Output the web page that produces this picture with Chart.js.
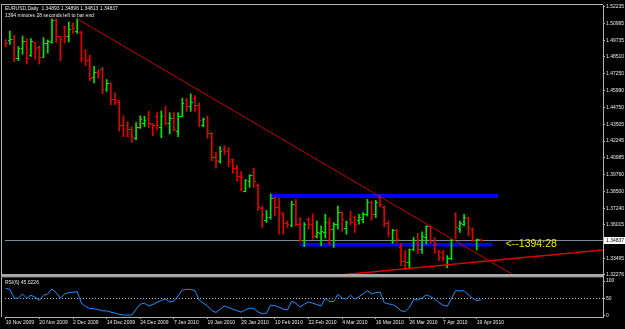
<!DOCTYPE html>
<html><head><meta charset="utf-8">
<script src="https://cdn.jsdelivr.net/npm/chart.js@4.4.1/dist/chart.umd.min.js"></script>
<style>html,body{margin:0;padding:0;background:#000;overflow:hidden}canvas{display:block}</style>
</head><body>
<canvas id="c" width="625" height="329"></canvas>
<script>
const symbolName = 'EURUSD,Daily';
const timerText = '1394 minutes 28 seconds left to bar end';
const countdownText = '<--1394:28';
const dateLabels = ['10 Nov 2009','20 Nov 2009','2 Dec 2009','14 Dec 2009','24 Dec 2009','7 Jan 2010','19 Jan 2010','29 Jan 2010','10 Feb 2010','22 Feb 2010','4 Mar 2010','16 Mar 2010','26 Mar 2010','7 Apr 2010','19 Apr 2010'];
const dateTickIndex = [0,8,16,24,32,40,48,56,64,72,80,88,96,104,112];
const priceTicks = [1.52235,1.50995,1.49735,1.48510,1.47250,1.45990,1.44750,1.43505,1.42245,1.40985,1.39760,1.38500,1.37240,1.36015,1.33495,1.32276];
const rsiTicks = [0,50,100];

const opens = [1.4958,1.4973,1.4982,1.4840,1.4914,1.4963,1.4860,1.4958,1.4923,1.4847,
1.4950,1.4958,1.5125,1.5002,1.5069,1.5002,1.5085,1.5044,1.5032,1.4896,
1.4823,1.4700,1.4736,1.4761,1.4609,1.4650,1.4535,1.4515,1.4343,1.4338,
1.4313,1.4244,1.4323,1.4353,1.4392,1.4348,1.4405,1.4323,1.4404,1.4355,
1.4392,1.4299,1.4409,1.4528,1.4485,1.4539,1.4490,1.4343,1.4392,1.4281,
1.4102,1.4072,1.4158,1.4146,1.4085,1.4023,1.3962,1.3851,1.3925,1.3969,
1.3893,1.3723,1.3629,1.3654,1.3797,1.3733,1.3679,1.3609,1.3593,1.3753,
1.3600,1.3487,1.3642,1.3600,1.3511,1.3533,1.3543,1.3617,1.3568,1.3605,
1.3691,1.3575,1.3642,1.3654,1.3629,1.3637,1.3679,1.3765,1.3674,1.3807,
1.3733,1.3609,1.3482,1.3556,1.3432,1.3329,1.3319,1.3413,1.3469,1.3413,
1.3506,1.3585,1.3477,1.3401,1.3393,1.3297,1.3346,1.3679,1.3575,1.3605,
1.3649,1.3568,1.3482,1.34893];
const highs = [1.4980,1.5044,1.5012,1.4928,1.5007,1.4987,1.4987,1.4958,1.4933,1.4995,
1.4978,1.5135,1.5135,1.5002,1.5081,1.5111,1.5105,1.5135,1.5044,1.4904,
1.4864,1.4781,1.4756,1.4773,1.4683,1.4657,1.4584,1.4528,1.4412,1.4367,
1.4331,1.4362,1.4412,1.4410,1.4446,1.4355,1.4436,1.4449,1.4483,1.4436,
1.4441,1.4436,1.4544,1.4544,1.4576,1.4564,1.4510,1.4397,1.4412,1.4288,
1.4141,1.4183,1.4190,1.4176,1.4092,1.4043,1.3998,1.3937,1.3974,1.4023,
1.3905,1.3740,1.3708,1.3831,1.3807,1.3797,1.3691,1.3629,1.3777,1.3790,
1.3654,1.3617,1.3654,1.3683,1.3629,1.3593,1.3679,1.3654,1.3617,1.3740,
1.3698,1.3629,1.3703,1.3666,1.3679,1.3691,1.3790,1.3777,1.3782,1.3821,
1.3740,1.3629,1.3568,1.3568,1.3462,1.3408,1.3420,1.3506,1.3536,1.3548,
1.3593,1.3593,1.3506,1.3413,1.3408,1.3371,1.3494,1.3691,1.3629,1.3679,
1.3659,1.3580,1.3494,1.34896];
const lows = [1.4928,1.4945,1.4815,1.4823,1.4871,1.4798,1.4855,1.4835,1.4798,1.4847,
1.4879,1.4953,1.4958,1.4823,1.4953,1.4963,1.5026,1.5026,1.4815,1.4786,
1.4675,1.4657,1.4692,1.4576,1.4594,1.4495,1.4495,1.4299,1.4257,1.4257,
1.4215,1.4232,1.4318,1.4331,1.4323,1.4264,1.4306,1.4249,1.4343,1.4277,
1.4299,1.4257,1.4404,1.4446,1.4446,1.4446,1.4331,1.4331,1.4244,1.4077,
1.4023,1.4060,1.4122,1.4035,1.3986,1.3925,1.3856,1.3846,1.3880,1.3880,
1.3708,1.3580,1.3617,1.3642,1.3666,1.3531,1.3531,1.3580,1.3585,1.3593,
1.3477,1.3438,1.3568,1.3494,1.3502,1.3445,1.3502,1.3452,1.3432,1.3568,
1.3551,1.3531,1.3600,1.3543,1.3605,1.3617,1.3666,1.3634,1.3654,1.3733,
1.3585,1.3511,1.3462,1.3469,1.3297,1.3266,1.3273,1.3408,1.3388,1.3388,
1.3457,1.3462,1.3388,1.3334,1.3329,1.3280,1.3339,1.3494,1.3544,1.3593,
1.3519,1.3477,1.3413,1.34813];
const closes = [1.4950,1.4980,1.4840,1.4914,1.4963,1.4840,1.4963,1.4914,1.4845,1.4952,
1.4963,1.5124,1.5002,1.4982,1.5002,1.5056,1.5061,1.5130,1.4840,1.4823,
1.4687,1.4736,1.4724,1.4609,1.4650,1.4535,1.4528,1.4343,1.4308,1.4308,
1.4249,1.4323,1.4382,1.4375,1.4355,1.4343,1.4340,1.4404,1.4355,1.4392,
1.4308,1.4404,1.4503,1.4485,1.4508,1.4490,1.4380,1.4387,1.4281,1.4102,
1.4077,1.4146,1.4146,1.4072,1.4023,1.3962,1.3954,1.3930,1.3969,1.3925,
1.3733,1.3679,1.3654,1.3797,1.3733,1.3691,1.3609,1.3605,1.3753,1.3600,
1.3487,1.3600,1.3600,1.3511,1.3543,1.3548,1.3617,1.3568,1.3605,1.3691,
1.3642,1.3617,1.3615,1.3600,1.3654,1.3674,1.3765,1.3674,1.3765,1.3753,
1.3609,1.3536,1.3556,1.3494,1.3329,1.3319,1.3413,1.3482,1.3415,1.3511,
1.3585,1.3477,1.3457,1.3356,1.3349,1.3349,1.3487,1.3580,1.3607,1.3654,
1.3578,1.3482,1.3489,1.34837];
const rsiValues = [78.7,75.8,49.8,49.8,62.3,49.8,58.5,52.7,43.0,58.5,
62.3,76.8,66.2,49.8,62.3,66.2,67.1,69.0,35.3,25.6,
19.8,18.8,16.9,13.0,13.0,9.2,6.3,2.4,1.0,0.5,
1.0,17.9,32.4,35.3,27.5,31.4,38.2,43.0,47.8,39.1,
42.0,56.5,73.9,75.8,75.8,72.0,44.9,35.3,27.5,14.0,
8.2,17.9,27.5,22.7,17.9,14.0,9.2,16.0,20.8,19.8,
10.1,4.3,6.3,29.5,28.5,23.7,17.9,16.0,41.0,35.3,
23.7,32.4,39.1,35.3,31.4,27.5,49.8,40.1,40.1,61.4,
49.8,47.8,58.5,46.9,54.6,62.3,72.0,62.3,66.2,68.1,
37.2,33.3,31.4,24.6,13.0,11.1,23.7,45.9,44.9,50.7,
59.4,54.6,47.8,37.2,29.5,26.6,48.8,72.0,71.0,72.0,
59.4,49.8,43.0,45.0226];

const downTrendX = [17, 121.1];
const downTrendY = [1.5135, 1.3220];
const upTrendX = [79.5, 142];
const upTrendY = [1.3227, 1.3412];
const upperBandX = [63, 117];
const upperBandY = [1.3816, 1.3816];
const lowerBandX = [70, 115.7];
const lowerBandY = [1.3452, 1.3452];

const X_MIN = -0.17, X_MAX = 142.03;
const PRICE_MIN = 1.3220, PRICE_MAX = 1.5238;
const RSI_MIN = -4.9, RSI_MAX = 115;

const UP = '#00e600', DOWN = '#e60000';
const FONT = 'Liberation Sans';
const last = closes.length - 1;
const idx = closes.map((_, i) => i);
const isUp = i => closes[i] >= opens[i];
const fmt = v => v.toFixed(5);

function tickImage(color, side) {
  const c = document.createElement('canvas');
  c.width = 4; c.height = 1;
  const g = c.getContext('2d');
  g.fillStyle = color;
  g.fillRect(side === 'open' ? 0 : 2, 0, 2, 1);
  return c;
}
const tickImgs = {
  openUp: tickImage(UP, 'open'), openDown: tickImage(DOWN, 'open'),
  closeUp: tickImage(UP, 'close'), closeDown: tickImage(DOWN, 'close')
};
const pts = (xs, ys) => xs.map((x, k) => ({x, y: ys[k]}));

const decor = {
  id: 'mt4decor',
  beforeDraw(chart) {
    const c = chart.ctx;
    c.save(); c.fillStyle = '#000'; c.fillRect(0, 0, chart.width, chart.height); c.restore();
  },
  beforeDatasetsDraw(chart) {
    const {ctx, chartArea: a, scales} = chart;
    const py = Math.round(scales.y.getPixelForValue(closes[last])) + 0.5;
    ctx.save();
    ctx.lineWidth = 1;
    ctx.strokeStyle = '#7a8898';
    ctx.beginPath(); ctx.moveTo(a.left, py); ctx.lineTo(a.right, py); ctx.stroke();
    const ry = Math.round(scales.rsi.getPixelForValue(50)) + 0.5;
    ctx.setLineDash([1, 2]);
    ctx.strokeStyle = '#c0c0c0';
    ctx.beginPath(); ctx.moveTo(a.left, ry); ctx.lineTo(a.right, ry); ctx.stroke();
    ctx.restore();
  },
  afterDraw(chart) {
    const {ctx, chartArea: a, scales} = chart;
    const y = scales.y, r = scales.rsi, x = scales.x;
    ctx.save();
    // frame
    ctx.strokeStyle = '#b4b4b4'; ctx.lineWidth = 1;
    ctx.beginPath();
    ctx.moveTo(1.5, a.top - 0.5); ctx.lineTo(1.5, a.bottom);
    ctx.moveTo(1, a.top - 0.5); ctx.lineTo(a.right, a.top - 0.5);
    ctx.stroke();
    // pane separator
    ctx.fillStyle = '#9a9a9a';
    ctx.fillRect(1, y.bottom - 1.5, a.right - 1, 3);
    ctx.fillStyle = '#d0d0d0';
    ctx.fillRect(1, y.bottom - 1.5, a.right - 1, 1);
    // current price box
    const py = Math.round(y.getPixelForValue(closes[last]));
    ctx.fillStyle = '#ffffff';
    ctx.fillRect(a.right + 1, py - 3, chart.width - a.right - 1, 7);
    ctx.fillStyle = '#000000';
    ctx.font = '5px "' + FONT + '"';
    ctx.textBaseline = 'middle';
    ctx.textAlign = 'left';
    ctx.fillText(fmt(closes[last]), a.right + 3, py + 0.5);
    // header texts
    ctx.fillStyle = '#e8e8e8';
    ctx.fillText(symbolName + '  ' + fmt(opens[last]) + ' ' + fmt(highs[last]) + ' ' + fmt(lows[last]) + ' ' + fmt(closes[last]), 5, a.top + 4);
    ctx.fillText(timerText, 5, a.top + 10.5);
    ctx.fillText('RSI(6) ' + rsiValues[last].toFixed(4), 5, r.top + 7);
    // countdown
    ctx.fillStyle = '#f2e600';
    ctx.font = '10.5px "' + FONT + '"';
    ctx.fillText(countdownText, x.getPixelForValue(last + 5.9), py + 4);
    ctx.restore();
  }
};

new Chart(document.getElementById('c').getContext('2d'), {
  type: 'bar',
  data: {
    datasets: [
      { type: 'line', data: pts(downTrendX, downTrendY), borderColor: '#c80000', borderWidth: 1, pointRadius: 0, order: 0, xAxisID: 'x', yAxisID: 'y' },
      { type: 'line', data: pts(upTrendX, upTrendY), borderColor: '#dc0000', borderWidth: 1.5, pointRadius: 0, order: 0, xAxisID: 'x', yAxisID: 'y' },
      { type: 'scatter', data: idx.map(i => ({x: i, y: opens[i]})), pointStyle: c => isUp(c.dataIndex) ? tickImgs.openUp : tickImgs.openDown, pointRadius: 1, order: 1, xAxisID: 'x', yAxisID: 'y' },
      { type: 'scatter', data: idx.map(i => ({x: i, y: closes[i]})), pointStyle: c => isUp(c.dataIndex) ? tickImgs.closeUp : tickImgs.closeDown, pointRadius: 1, order: 1, xAxisID: 'x', yAxisID: 'y' },
      { type: 'bar', data: idx.map(i => ({x: i, y: [lows[i], highs[i]]})), backgroundColor: idx.map(i => isUp(i) ? UP : DOWN), barThickness: 1, borderWidth: 0, grouped: false, order: 2, xAxisID: 'x', yAxisID: 'y' },
      { type: 'line', data: pts(upperBandX, upperBandY), borderColor: '#0000ff', borderWidth: 4, pointRadius: 0, order: 3, xAxisID: 'x', yAxisID: 'y' },
      { type: 'line', data: pts(lowerBandX, lowerBandY), borderColor: '#0000ff', borderWidth: 3.5, pointRadius: 0, order: 3, xAxisID: 'x', yAxisID: 'y' },
      { type: 'line', data: idx.map(i => ({x: i, y: rsiValues[i]})), borderColor: '#1e90ff', borderWidth: 1, pointRadius: 0, tension: 0, order: 0, xAxisID: 'x', yAxisID: 'rsi' }
    ]
  },
  options: {
    responsive: false,
    animation: false,
    devicePixelRatio: 1,
    events: [],
    layout: { padding: { left: 2, top: 2, right: 0, bottom: 0 } },
    plugins: { legend: { display: false }, tooltip: { enabled: false } },
    scales: {
      x: {
        type: 'linear', position: 'bottom', min: X_MIN, max: X_MAX, offset: false,
        grid: { display: true, drawOnChartArea: false, drawTicks: true, tickLength: 2, color: '#a0a0a0', offset: false },
        border: { display: true, color: '#b4b4b4' },
        ticks: { autoSkip: false, maxRotation: 0, minRotation: 0, align: 'start', padding: 1, color: '#e8e8e8',
          font: { family: FONT, size: 5 },
          callback: v => { const k = dateTickIndex.indexOf(v); return k >= 0 ? dateLabels[k] : ''; } },
        afterBuildTicks: s => { s.ticks = dateTickIndex.map(v => ({value: v})); },
        afterFit: s => { s.height = 12; s.paddingLeft = 0; s.paddingRight = 0; }
      },
      y: {
        type: 'linear', position: 'right', stack: 'panes', stackWeight: 273.5,
        min: PRICE_MIN, max: PRICE_MAX, beginAtZero: false,
        grid: { display: true, drawOnChartArea: false, drawTicks: true, tickLength: 2, color: '#b4b4b4' },
        border: { display: true, color: '#b4b4b4' },
        ticks: { padding: 1, color: '#e8e8e8', font: { family: FONT, size: 5 }, callback: v => fmt(v) },
        afterBuildTicks: s => { s.ticks = priceTicks.map(v => ({value: v})); },
        afterFit: s => { s.width = 22; s.paddingTop = 0; s.paddingBottom = 0; }
      },
      rsi: {
        type: 'linear', axis: 'y', position: 'right', stack: 'panes', stackWeight: 41.5,
        min: RSI_MIN, max: RSI_MAX, beginAtZero: false,
        grid: { display: true, drawOnChartArea: false, drawTicks: true, tickLength: 2, color: '#b4b4b4' },
        border: { display: true, color: '#b4b4b4' },
        ticks: { padding: 1, color: '#e8e8e8', font: { family: FONT, size: 5 }, callback: v => String(v) },
        afterBuildTicks: s => { s.ticks = rsiTicks.map(v => ({value: v})); },
        afterFit: s => { s.width = 22; s.paddingTop = 0; s.paddingBottom = 0; }
      }
    }
  },
  plugins: [decor]
});
</script>
</body></html>
